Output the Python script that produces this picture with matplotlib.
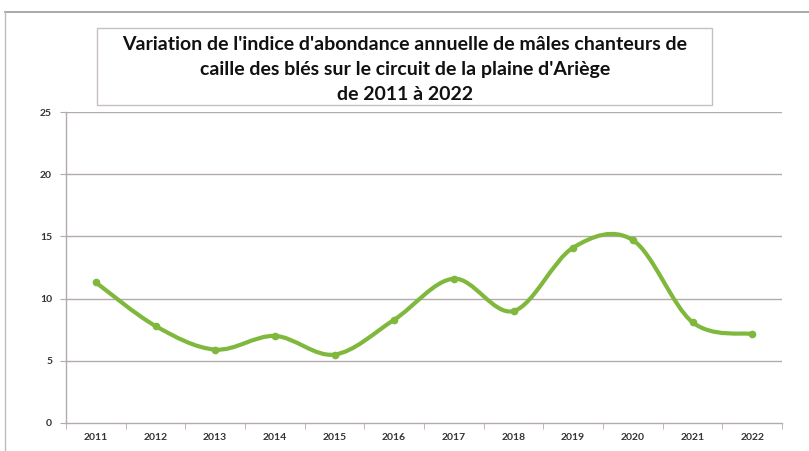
import matplotlib
matplotlib.use("Agg")
import matplotlib.pyplot as plt
from matplotlib.path import Path
from matplotlib.patches import PathPatch, Rectangle
from matplotlib.lines import Line2D
import numpy as np

years = ["2011", "2012", "2013", "2014", "2015", "2016", "2017", "2018", "2019", "2020", "2021", "2022"]
values = [11.3, 7.8, 5.9, 7.0, 5.5, 8.3, 11.6, 9.0, 14.1, 14.7, 8.1, 7.15]
title_lines = ["Variation de l'indice d'abondance annuelle de mâles chanteurs de",
               "caille des blés sur le circuit de la plaine d'Ariège",
               "de 2011 à 2022"]
yticks = [0, 5, 10, 15, 20, 25]

GREEN = "#7fb83d"
GRID = "#b3abab"
FONT = ["Lato", "DejaVu Sans"]

fig = plt.figure(figsize=(8.09, 4.51), dpi=100)
fig.patch.set_facecolor("white")

# outer chart border (top + left)
fig.add_artist(Line2D([5/809, 1.0], [1 - 12/451, 1 - 12/451], color="#9a9a9a", lw=1.2, transform=fig.transFigure))
fig.add_artist(Line2D([5/809, 5/809], [0, 1 - 12/451], color="#bdbdbd", lw=1.0, transform=fig.transFigure))

ax = fig.add_axes([66/809, 28/451, (782-66)/809, (423-112)/451])
x = np.arange(len(values))
ax.set_xlim(-0.5, len(values) - 0.5)
ax.set_ylim(0, 25)

# Excel-style smoothed line through Bezier segments
pts = list(zip(x, values))
verts = [pts[0]]
codes = [Path.MOVETO]
n = len(pts)
for i in range(n - 1):
    p0 = np.array(pts[i - 1] if i > 0 else pts[i])
    p1 = np.array(pts[i])
    p2 = np.array(pts[i + 1])
    p3 = np.array(pts[i + 2] if i + 2 < n else pts[i + 1])
    c1 = p1 + (p2 - p0) / 6.0
    c2 = p2 - (p3 - p1) / 6.0
    verts += [tuple(c1), tuple(c2), tuple(p2)]
    codes += [Path.CURVE4] * 3
ax.add_patch(PathPatch(Path(verts, codes), fill=False, edgecolor=GREEN, lw=3.0, capstyle="round", zorder=3))
ax.plot(x, values, linestyle="none", marker="o", ms=4.5, color=GREEN, zorder=4)

# gridlines
for yv in yticks[1:]:
    ax.axhline(yv, color=GRID, lw=1.0, zorder=1)

for s in ["top", "right"]:
    ax.spines[s].set_visible(False)
ax.spines["left"].set_color(GRID)
ax.spines["bottom"].set_color(GRID)
ax.spines["left"].set_linewidth(1.0)
ax.spines["bottom"].set_linewidth(1.0)

ax.set_yticks(yticks)
ax.set_yticklabels([str(v) for v in yticks], fontsize=7.5, fontweight="bold", family=FONT, color="#333333")
ax.set_xticks(x)
ax.set_xticklabels(years, fontsize=7.5, fontweight="bold", family=FONT, color="#333333")
ax.tick_params(axis="x", length=0, pad=7)
ax.set_xticks(np.arange(-0.5, len(values)), minor=True)
ax.tick_params(axis="x", which="minor", length=4, color=GRID, direction="out")
ax.tick_params(axis="y", length=4, color=GRID, pad=6)

# title box
fig.add_artist(Rectangle((97/809, 1 - 105/451), 615/809, 77/451, transform=fig.transFigure,
                         facecolor="white", edgecolor="#c8c0c0", lw=1.0))
title_y = [45, 69, 94]
for t, yy in zip(title_lines, title_y):
    fig.text(405/809, 1 - yy/451, t, ha="center", va="center", fontsize=14,
             fontweight="bold", family=FONT, color="#111111")

fig.savefig("out.png", dpi=100, facecolor="white")
